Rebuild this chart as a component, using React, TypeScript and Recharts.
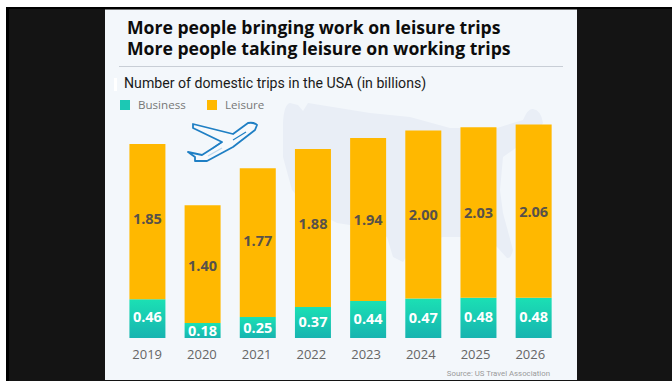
import { BarChart, Bar, XAxis, YAxis, LabelList, Legend } from 'recharts';

const YEARS = ['2019', '2020', '2021', '2022', '2023', '2024', '2025', '2026'];
const BUSINESS = [0.46, 0.18, 0.25, 0.37, 0.44, 0.47, 0.48, 0.48];
const LEISURE = [1.85, 1.4, 1.77, 1.88, 1.94, 2.0, 2.03, 2.06];

const rows = YEARS.map((year, i) => ({ year, business: BUSINESS[i], leisure: LEISURE[i] }));

const FONT = '"Open Sans", "Noto Sans", sans-serif';
const TEAL = '#1cc8b4';
const AMBER = '#ffb800';

// small vertical nudges so the value labels sit where the layout wants them
const LEISURE_LABEL_NUDGE = [-3, 1, -2, -4, 0, 0, 0, 0];
const BUSINESS_LABEL_NUDGE = [-2, 0, 0, -1, -1, -1, -1, -1];

// silhouette of the lower 48 sitting behind the bars
const USA_SHAPE =
  'M283 123 Q284 104 290 103 L298 105 L303 111 L308 103 L370 113 L410 117 L450 128 L497 128 L523 120 Q528 108 533 109 Q541 110 543 123 L537 133 L503 157 L500 190 L503 213 L513 250 Q511 259 507 258 L497 247 L483 237 L443 237 L413 247 L403 262 L393 257 L387 237 L363 227 L337 223 L307 207 L292 190 L283 157 Z';

const PLANE =
  'M257 125 Q254 122 248 123 L233 134 L193 124 L193 128 L222 142 L213 148 L202 155 L188 152 L195 157 L195 161 L207 161 L233 147 L255 130 Z';

function renderLegend() {
  const items = [
    { label: 'Business', color: TEAL, width: 87 },
    { label: 'Leisure', color: AMBER, width: 60 },
  ];
  return (
    <div style={{ display: 'flex', fontFamily: FONT, fontSize: 11.6, color: '#777' }}>
      {items.map((item) => (
        <div key={item.label} style={{ display: 'flex', alignItems: 'center', width: item.width }}>
          <span style={{ width: 10, height: 10, background: item.color, marginRight: 8 }} />
          {item.label}
        </div>
      ))}
    </div>
  );
}

function valueLabel(fill: string, nudges: number[]) {
  return (props: any) => {
    const { x, y, width, height, value, index } = props;
    return (
      <text
        x={x + width / 2}
        y={y + height / 2 + nudges[index]}
        textAnchor="middle"
        dominantBaseline="central"
        fill={fill}
        fontSize={14.5}
        fontWeight={700}
        fontFamily={FONT}
      >
        {Number(value).toFixed(2)}
      </text>
    );
  };
}

// year labels run a touch tighter than the bars
function YearTick(props: any) {
  const { x, y, payload, index } = props;
  return (
    <text x={x - index * 0.45} y={y + 10} textAnchor="middle" fill="#666" fontSize={13} fontFamily={FONT}>
      {payload.value}
    </text>
  );
}

export default function App() {
  return (
    <div style={{ position: 'fixed', left: 0, top: 0, width: 672, height: 381, background: '#fff', overflow: 'hidden' }}>
      {/* dark frame and the light panel */}
      <div style={{ position: 'absolute', left: 6, top: 7, width: 666, height: 374, background: '#000' }} />
      <div style={{ position: 'absolute', left: 9, top: 9, width: 663, height: 372, background: '#141414' }} />
      <div style={{ position: 'absolute', left: 105, top: 9, width: 472, height: 371, background: '#f3f7fb', borderTop: '1px solid #777', boxSizing: 'border-box' }} />

      <svg width={672} height={381} style={{ position: 'absolute', left: 0, top: 0 }}>
        <path d={USA_SHAPE} fill="#e9eef6" />
        <line x1={119} x2={563} y1={66.5} y2={66.5} stroke="#c8ced6" />
        <rect x={114} y={78} width={3} height={13} fill="#fff" />
      </svg>

      <div style={{ position: 'absolute', left: 127, top: 17, fontFamily: FONT, fontWeight: 700, fontSize: 17.6, lineHeight: '21px', color: '#0c0c0c', whiteSpace: 'nowrap' }}>
        More people bringing work on leisure trips
        <br />
        More people taking leisure on working trips
      </div>
      <div style={{ position: 'absolute', left: 124, top: 73, fontFamily: 'Roboto, sans-serif', fontSize: 14.15, lineHeight: '20px', color: '#1a1a1a', whiteSpace: 'nowrap' }}>
        Number of domestic trips in the USA (in billions)
      </div>
      <div style={{ position: 'absolute', right: 122, top: 368, fontFamily: 'Roboto, sans-serif', fontSize: 7.8, lineHeight: '12px', color: '#9a9a9a', whiteSpace: 'nowrap' }}>
        Source: US Travel Association
      </div>

      <BarChart
        width={672}
        height={381}
        data={rows}
        margin={{ top: 100, right: 111, bottom: 0, left: 119.6 }}
        barCategoryGap="17.8%"
        style={{ position: 'absolute', left: 0, top: 0 }}
      >
        <defs>
          <linearGradient id="businessFill" x1="0" y1="0" x2="0" y2="1">
            <stop offset="0%" stopColor="#1be0b4" />
            <stop offset="100%" stopColor="#17b4b0" />
          </linearGradient>
        </defs>
        <XAxis dataKey="year" height={43} axisLine={false} tickLine={false} tickMargin={5} tick={YearTick} />
        <YAxis hide domain={[0, 2.833]} />
        <Legend
          content={renderLegend}
          layout="horizontal"
          align="center"
          verticalAlign="middle"
          wrapperStyle={{ left: 120, top: 97, width: 200, height: 18 }}
        />
        <Bar dataKey="business" stackId="trips" fill="url(#businessFill)" isAnimationActive={false}>
          <LabelList dataKey="business" content={valueLabel('#fff', BUSINESS_LABEL_NUDGE)} />
        </Bar>
        <Bar dataKey="leisure" stackId="trips" fill={AMBER} isAnimationActive={false}>
          <LabelList dataKey="leisure" content={valueLabel('#57514a', LEISURE_LABEL_NUDGE)} />
        </Bar>
      </BarChart>

      {/* plane icon, outline with a fuselage stripe and windows */}
      <svg width={672} height={381} style={{ position: 'absolute', left: 0, top: 0, pointerEvents: 'none' }}>
        <path d={PLANE} fill="#f6f9fc" stroke="#1f7fc4" strokeWidth={1.8} strokeLinejoin="round" />
        <path d="M233 140 L246 132" fill="none" stroke="#1f7fc4" strokeWidth={1.2} />
        <path d="M208 156 L222 148" fill="none" stroke="#bcd8ee" strokeWidth={1.2} />
        <path d="M213 148 L222 142" fill="none" stroke="#1f7fc4" strokeWidth={1.2} />
      </svg>
    </div>
  );
}
